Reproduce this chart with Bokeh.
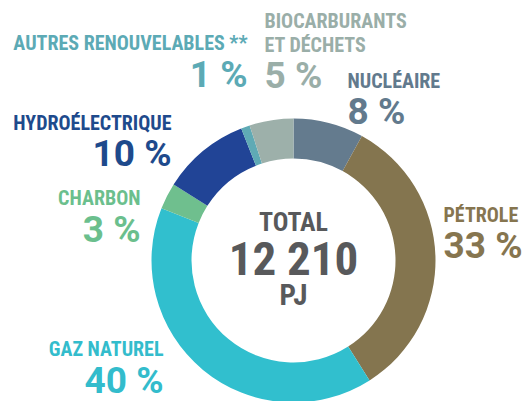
import math
from bokeh.plotting import figure
from bokeh.models import Range1d, ColumnDataSource
from bokeh.core.properties import value
from bokeh.embed import file_html
from bokeh.resources import INLINE

# ---- data ----
categories = ["NUCLÉAIRE", "PÉTROLE", "GAZ NATUREL", "CHARBON",
              "HYDROÉLECTRIQUE", "AUTRES RENOUVELABLES **", "BIOCARBURANTS|ET DÉCHETS"]
shares = [8, 33, 40, 3, 10, 1, 5]
slice_colors = ["#647b8e", "#84754f", "#31bfce", "#6fbf8e", "#214496", "#5faab5", "#9db0aa"]
text_colors = ["#627a8d", "#86754f", "#33bccc", "#6bbf8d", "#1e4a8c", "#5caab5", "#9aaea8"]
total_label = ["TOTAL", "12 210", "PJ"]

LABEL_FONT = "Roboto Condensed"
PCT_FONT = "Roboto"
CENTER_FONT = "Roboto Condensed"
W, H = 524, 401
BASE_FIX = 0.36  # em offset observed between requested and drawn baseline

def Y(img_y, size=0):
    return H - (img_y - BASE_FIX * size)

p = figure(width=W, height=H, output_backend="svg", toolbar_location=None,
           x_range=Range1d(0, W), y_range=Range1d(0, H), min_border=0)
p.axis.visible = False
p.grid.visible = False
p.outline_line_color = None
p.background_fill_color = "white"
p.border_fill_color = "white"

# ---- donut ----
cx, cy = 293, Y(260)
total = sum(shares)
starts, ends = [], []
cum = 0
for s in shares:
    a0 = math.pi / 2 - 2 * math.pi * cum / total
    cum += s
    a1 = math.pi / 2 - 2 * math.pi * cum / total
    starts.append(a1)
    ends.append(a0)
src = ColumnDataSource(dict(start=starts, end=ends, color=slice_colors))
p.annular_wedge(x=cx, y=cy, inner_radius=102, outer_radius=142,
                start_angle="start", end_angle="end", color="color",
                line_color=None, source=src)

# ---- labels (layout) ----
LS, PS = 20, 37
layout = {
    0: (347, [88], 124, "left"),
    1: (443, [222], 258, "left"),
    2: (163, [356], 393, "right"),
    3: (140, [205], 242, "right"),
    4: (171, [130], 166, "right"),
    5: (247, [50], 87, "right"),
    6: (264, [28, 52], 88, "left"),
}
for i, name in enumerate(categories):
    x, nb, pb, align = layout[i]
    lines = name.split("|")
    for line, b in zip(lines, nb):
        p.text(x=[x], y=[Y(b, LS)], text=[line], text_font=value(LABEL_FONT),
               text_font_style="bold", text_font_size=f"{LS}px",
               text_color=text_colors[i], text_align=align,
               text_baseline="alphabetic")
    p.text(x=[x], y=[Y(pb, PS)], text=[f"{shares[i]} %"], text_font=value(PCT_FONT),
           text_font_style="bold", text_font_size=f"{PS}px",
           text_color=text_colors[i], text_align=align,
           text_baseline="alphabetic")

# ---- center text ----
for t, b, fs in zip(total_label, [231, 275, 305], [26, 47, 29]):
    p.text(x=[cx], y=[Y(b, fs)], text=[t], text_font=value(CENTER_FONT),
           text_font_style="bold", text_font_size=f"{fs}px", text_color="#58595b",
           text_align="center", text_baseline="alphabetic")

open("out.html", "w").write(file_html(p, INLINE))
